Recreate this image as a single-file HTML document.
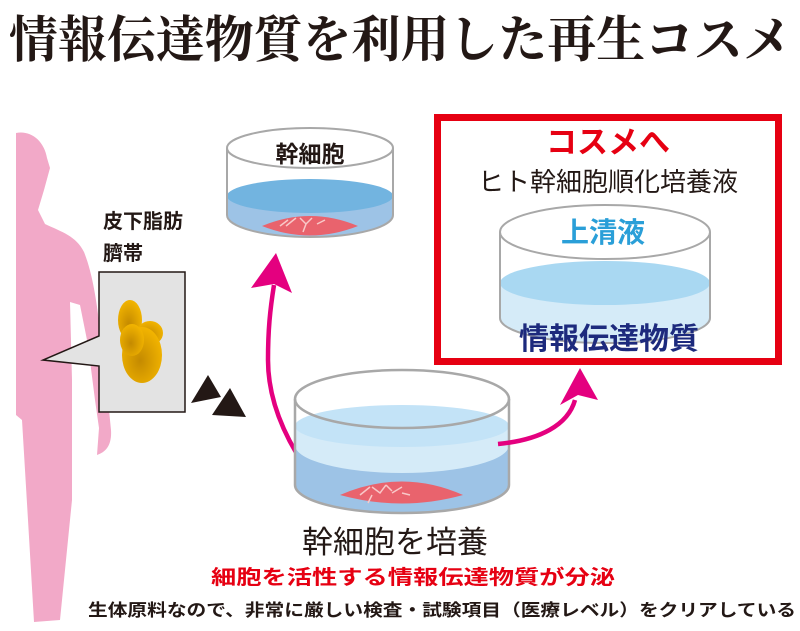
<!DOCTYPE html>
<html><head><meta charset="utf-8"><style>
html,body{margin:0;padding:0;background:#fff;}
svg{display:block;}
text{font-family:"Liberation Sans","Noto Sans CJK JP",sans-serif;}
</style></head><body>
<svg width="800" height="631" viewBox="0 0 800 631" xmlns="http://www.w3.org/2000/svg">
<defs>
<radialGradient id="yg" cx="0.45" cy="0.6" r="0.6"><stop offset="0" stop-color="#c48a00"/><stop offset="1" stop-color="#f2b400"/></radialGradient>
</defs>
<text x="9" y="57" font-size="50" font-weight="bold" textLength="783" lengthAdjust="spacingAndGlyphs" style="font-family:'Liberation Serif','Noto Serif CJK SC',serif" fill="#231815">情報伝達物質を利用した再生コスメ</text>

<path fill="#f2a9c8" d="M16,133 C30,130 44,140 47,158 L50,168 L44,190 L38,210 L45,224 C62,232 76,236 84,252 C92,272 97,300 101,340 L108,400 L111,430 C112,445 106,452 97,455 L99,428 L95,400 L88,345 L80,305 L70,302 L72,380 L72,500 L60,620 L34,622 L28,520 L22,420 L16,415 Z"/>

<text x="103" y="228" font-size="20" font-weight="bold" fill="#231815">皮下脂肪</text>
<text x="103" y="260" font-size="20" font-weight="bold" fill="#231815">臍帯</text>

<path d="M99,272 L185,272 L185,412 L99,412 L99,366 L43,360 L99,336 Z" fill="#e3e3e3" stroke="#231815" stroke-width="1.5"/>
<g fill="url(#yg)">
<ellipse cx="130" cy="320" rx="12" ry="20"/>
<ellipse cx="150" cy="333" rx="13" ry="12"/>
<ellipse cx="142" cy="355" rx="20" ry="28"/>
<ellipse cx="132" cy="340" rx="12" ry="16"/>
</g>

<polygon points="191,403 208,375 221,397" fill="#231815"/>
<polygon points="212,415 230,388 246,417" fill="#231815"/>

<!-- top dish -->
<path d="M227,196 L227,215 A83,22 0 0 0 393,215 L393,196 Z" fill="#9dc3e6"/>
<ellipse cx="310" cy="196" rx="83" ry="17" fill="#72b4e0"/>
<path d="M262,226 Q310,206 358,226 Q310,245 262,226 Z" fill="#e9636d"/>
<path d="M280,226 l8,-6 m-2,6 l10,-8 m4,0 l6,6 l6,-6 m-6,6 l-3,8 m14,-8 l8,-4" stroke="#f8c8c8" stroke-width="1.5" fill="none"/>
<ellipse cx="310" cy="148" rx="83" ry="20" fill="#fff" stroke="#a8a8a8" stroke-width="2"/>
<path d="M227,148 L227,215 A83,22 0 0 0 393,215 L393,148" fill="none" stroke="#a8a8a8" stroke-width="2"/>
<text x="310" y="162" font-size="23" font-weight="bold" text-anchor="middle" fill="#231815">幹細胞</text>

<path d="M313,478 C285,440 268,400 268,360 C268,330 270,310 274,285" fill="none" stroke="#e4007f" stroke-width="4.5"/>
<polygon points="276,253 292,293 274,284 251,288" fill="#e4007f"/>

<!-- bottom dish -->
<path d="M295,426 L295,485 A107,28 0 0 0 509,485 L509,426 Z" fill="#9dc3e6"/>
<path d="M295,426 L295,445 A107,28 0 0 0 509,445 L509,426 Z" fill="#d5ebf8"/>
<ellipse cx="402" cy="426" rx="107" ry="21" fill="#c3e3f7"/>
<path d="M340,495 Q402,468 463,495 Q402,512 340,495 Z" fill="#e9636d"/>
<path d="M360,495 l10,-8 m2,0 l8,6 l6,-8 m0,0 l6,6 m-20,4 l-4,8 m24,-10 l10,-6 m0,6 l8,2" stroke="#f8c8c8" stroke-width="1.5" fill="none"/>
<ellipse cx="402" cy="399" rx="107" ry="29" fill="none" stroke="#a8a8a8" stroke-width="2.5"/>
<path d="M295,399 L295,485 A107,28 0 0 0 509,485 L509,399" fill="none" stroke="#a8a8a8" stroke-width="2.5"/>

<path d="M498,444 C540,440 568,425 575,400" fill="none" stroke="#e4007f" stroke-width="4.5"/>
<polygon points="580,368 598,400 578,395 560,405" fill="#e4007f"/>

<rect x="437.5" y="117.5" width="341" height="244" fill="none" stroke="#e60012" stroke-width="7"/>
<text x="608" y="153" font-size="31" font-weight="bold" text-anchor="middle" fill="#e60012">コスメへ</text>
<text x="608" y="191" font-size="26" text-anchor="middle" fill="#231815">ヒト幹細胞順化培養液</text>
<path d="M500,283 L500,318 A105,25 0 0 0 710,318 L710,283 Z" fill="#d5ebf8"/>
<ellipse cx="605" cy="283" rx="105" ry="22" fill="#a9d8f2"/>
<ellipse cx="605" cy="232" rx="105" ry="27" fill="#fff" stroke="#a8a8a8" stroke-width="2"/>
<path d="M500,232 L500,318 A105,25 0 0 0 710,318 L710,232" fill="none" stroke="#a8a8a8" stroke-width="2"/>
<text x="603" y="242" font-size="28" font-weight="bold" text-anchor="middle" fill="#2a9fd8">上清液</text>
<text x="609" y="349" font-size="30" font-weight="bold" text-anchor="middle" fill="#1d2a7d">情報伝達物質</text>

<text x="395" y="553" font-size="31" text-anchor="middle" fill="#231815">幹細胞を培養</text>
<text x="413" y="584" font-size="20" font-weight="bold" text-anchor="middle" fill="#e60012" textLength="404" lengthAdjust="spacingAndGlyphs">細胞を活性する情報伝達物質が分泌</text>
<text x="88" y="616" font-size="17" font-weight="bold" fill="#231815" textLength="708" lengthAdjust="spacingAndGlyphs">生体原料なので、非常に厳しい検査・試験項目（医療レベル）をクリアしている</text>
</svg>
</body></html>
